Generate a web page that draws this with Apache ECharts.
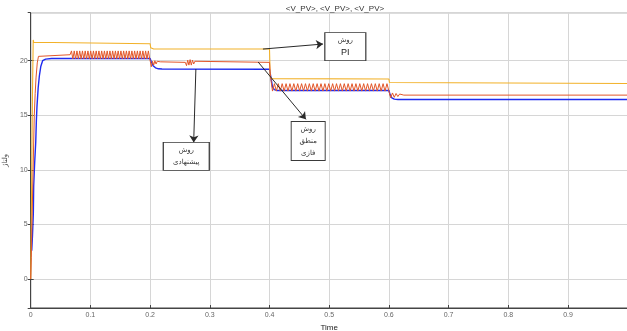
<!DOCTYPE html>
<html>
<head>
<meta charset="utf-8">
<script src="https://cdn.jsdelivr.net/npm/echarts@6/dist/echarts.min.js"></script>
<style>
html,body{margin:0;padding:0;background:#fff;}
#chart{width:627px;height:331px;}
</style>
</head>
<body>
<div id="chart"></div>
<script>
// ---- data ----
const chartTitle = '<V_PV>, <V_PV>, <V_PV>';
const xName = 'Time';
const yName = 'ولتاژ';
const xTicks = [0, 0.1, 0.2, 0.3, 0.4, 0.5, 0.6, 0.7, 0.8, 0.9, 1];
const seriesNames = ['PI', 'Fuzzy', 'Proposed'];

// PI method (yellow)
const piData = [
  [0,0],[0.0006,3],[0.0018,10],[0.003,17],[0.0042,21.9],[0.005,21.7],[0.007,21.56],
  [0.2,21.56],[0.201,21.2],[0.203,21.09],[0.206,21.07],
  [0.4,21.07],[0.4005,20.0],[0.401,18.6],[0.403,18.36],[0.406,18.32],
  [0.6,18.32],[0.601,18.0],[0.603,17.93],[1.0,17.92]
];

// Fuzzy logic method (orange)
const fuzzyData = [
  [0,0],[0.001,2],[0.002,4.7],[0.004,10],[0.006,15],[0.0075,17],[0.009,18.5],[0.011,19.8],[0.013,20.4],[0.016,20.55],
  [0.0660,20.55],[0.0683,20.9],[0.0706,20.16],[0.0729,20.9],[0.0752,20.16],[0.0775,20.9],[0.0798,20.16],[0.0821,20.9],
  [0.0844,20.16],[0.0867,20.9],[0.0890,20.16],[0.0913,20.9],[0.0936,20.16],[0.0959,20.9],[0.0982,20.16],[0.1005,20.9],
  [0.1028,20.16],[0.1051,20.9],[0.1074,20.16],[0.1097,20.9],[0.1120,20.16],[0.1143,20.9],[0.1166,20.16],[0.1189,20.9],
  [0.1212,20.16],[0.1235,20.9],[0.1258,20.16],[0.1281,20.9],[0.1304,20.16],[0.1327,20.9],[0.1350,20.16],[0.1373,20.9],
  [0.1396,20.16],[0.1419,20.9],[0.1442,20.16],[0.1465,20.9],[0.1488,20.16],[0.1511,20.9],[0.1534,20.16],[0.1557,20.9],
  [0.1580,20.16],[0.1603,20.9],[0.1626,20.16],[0.1649,20.9],[0.1672,20.16],[0.1695,20.9],[0.1718,20.16],[0.1741,20.9],
  [0.1764,20.16],[0.1787,20.9],[0.1810,20.16],[0.1833,20.9],[0.1856,20.16],[0.1879,20.9],[0.1902,20.16],[0.1925,20.9],
  [0.1948,20.16],[0.1971,20.9],[0.1994,20.16],
  [0.2005,19.9],[0.202,19.45],[0.204,19.95],[0.206,19.6],[0.208,20.0],[0.210,19.7],[0.212,19.95],[0.214,19.78],[0.217,19.9],[0.22,19.85],
  [0.259,19.85],[0.261,19.55],[0.263,20.05],[0.265,19.6],[0.267,20.1],[0.269,19.6],[0.271,20.05],[0.273,19.7],[0.275,19.95],[0.277,19.85],
  [0.4,19.85],[0.401,19.0],[0.403,18.0],
  [0.40500,17.22],[0.40825,17.9],[0.41150,17.22],[0.41475,17.9],[0.41800,17.22],[0.42125,17.9],[0.42450,17.22],[0.42775,17.9],
  [0.43100,17.22],[0.43425,17.9],[0.43750,17.22],[0.44075,17.9],[0.44400,17.22],[0.44725,17.9],[0.45050,17.22],[0.45375,17.9],
  [0.45700,17.22],[0.46025,17.9],[0.46350,17.22],[0.46675,17.9],[0.47000,17.22],[0.47325,17.9],[0.47650,17.22],[0.47975,17.9],
  [0.48300,17.22],[0.48625,17.9],[0.48950,17.22],[0.49275,17.9],[0.49600,17.22],[0.49925,17.9],[0.50250,17.22],[0.50575,17.9],
  [0.50900,17.22],[0.51225,17.9],[0.51550,17.22],[0.51875,17.9],[0.52200,17.22],[0.52525,17.9],[0.52850,17.22],[0.53175,17.9],
  [0.53500,17.22],[0.53825,17.9],[0.54150,17.22],[0.54475,17.9],[0.54800,17.22],[0.55125,17.9],[0.55450,17.22],[0.55775,17.9],
  [0.56100,17.22],[0.56425,17.9],[0.56750,17.22],[0.57075,17.9],[0.57400,17.22],[0.57725,17.9],[0.58050,17.22],[0.58375,17.9],
  [0.58700,17.22],[0.59025,17.9],[0.59350,17.22],[0.59675,17.9],[0.60000,17.22],
  [0.6015,17.1],[0.603,16.6],[0.606,17.05],[0.609,16.65],[0.612,17.0],[0.615,16.72],[0.618,16.95],[0.621,16.8],[0.625,16.85],
  [1.0,16.85]
];

// Proposed method (blue)
const proposedData = [
  [0.0017,2.6],[0.003,4],[0.0044,6],[0.005,8.5],[0.0065,10.5],[0.0084,12.5],[0.0095,14.5],[0.0105,15.8],[0.0125,17.5],
  [0.0145,18.6],[0.017,19.5],[0.02,20.0],[0.025,20.15],[0.035,20.2],
  [0.2,20.2],[0.202,19.9],[0.205,19.55],[0.209,19.35],[0.214,19.26],[0.22,19.24],
  [0.4,19.22],[0.402,18.6],[0.405,17.6],[0.408,17.35],[0.412,17.28],
  [0.6,17.27],[0.602,16.9],[0.605,16.6],[0.609,16.48],[0.615,16.45],[1.0,16.45]
];

// annotation labels
const piLabel = ['روش', 'PI'];
const proposedLabel = ['روش', 'پیشنهادی'];
const fuzzyLabel = ['روش', 'منطق', 'فازی'];

// ---- chart ----
const FONT = 'Liberation Sans, Arial, DejaVu Sans, sans-serif';
const chart = echarts.init(document.getElementById('chart'), null, {renderer: 'canvas'});

const arrowStyle = {color: '#2a2a2a', width: 1, type: 'solid'};
const boxStyle = {color: '#ffffff', borderColor: '#3a3a3a', borderWidth: 1};
const richText = {
  a: {fontSize: 7, color: '#333', fontFamily: 'DejaVu Sans, sans-serif', lineHeight: 12},
  b: {fontSize: 9, color: '#222', fontFamily: FONT, lineHeight: 12}
};

const option = {
  animation: false,
  backgroundColor: '#fff',
  textStyle: {fontFamily: FONT},
  title: {
    text: chartTitle,
    left: 330, top: 0, textAlign: 'center',
    textStyle: {fontSize: 8, fontWeight: 'normal', color: '#333', fontFamily: FONT}
  },
  grid: {left: 30.7, top: 12.7, width: 597, height: 295.3, containLabel: false, outerBoundsMode: 'none',
    show: true, borderColor: '#444', borderWidth: 1, backgroundColor: '#fff'},
  xAxis: {
    type: 'value', min: 0, max: 1, interval: 0.1,
    name: xName, nameLocation: 'middle', nameGap: 11,
    nameTextStyle: {fontSize: 8, color: '#222', verticalAlign: 'top'},
    axisLine: {show: true, onZero: false, lineStyle: {color: '#444', width: 1}},
    axisTick: {show: true, inside: true, length: 3, lineStyle: {color: '#444'}},
    axisLabel: {fontSize: 7, color: '#666', margin: 4, showMaxLabel: false,
      formatter: v => { const f = xTicks.find(t => Math.abs(t - v) < 1e-9); return f === undefined ? '' : String(f); }},
    splitLine: {show: true, lineStyle: {color: '#d6d6d6', width: 1}}
  },
  yAxis: [{
    type: 'value', min: -2.65, max: 24.4, splitNumber: 5, minInterval: 5, maxInterval: 5,
    name: yName, nameLocation: 'middle', nameGap: 9, nameRotate: 90,
    nameTextStyle: {fontSize: 7, color: '#444', fontFamily: 'DejaVu Sans, sans-serif'},
    axisLine: {show: true, onZero: false, lineStyle: {color: '#444', width: 1}},
    axisTick: {show: true, inside: true, length: 3, lineStyle: {color: '#444'}},
    axisLabel: {fontSize: 7, color: '#666', margin: 3, showMinLabel: false, showMaxLabel: false},
    splitLine: {show: true, lineStyle: {color: '#d6d6d6', width: 1}}
  }, {
    type: 'value', min: -2.65, max: 24.4, splitNumber: 5, minInterval: 5, maxInterval: 5, position: 'right',
    axisLine: {show: false}, axisTick: {show: true, inside: true, length: 3, lineStyle: {color: '#444'}},
    axisLabel: {show: false}, splitLine: {show: false}
  }],
  series: [
    {
      name: seriesNames[0], type: 'line', data: piData, showSymbol: false, symbol: 'none',
      lineStyle: {color: '#F2B128', width: 1.1}, z: 3,
      markLine: {
        silent: true, symbol: ['none', 'arrow'], symbolSize: 7,
        lineStyle: arrowStyle, label: {show: false},
        emphasis: {disabled: true},
        data: [
          [{coord: [0.389, 21.07]}, {coord: [0.4896, 21.53]}],
          [{coord: [0.2767, 19.24]}, {coord: [0.273, 12.52]}],
          [{coord: [0.381, 19.88]}, {coord: [0.461, 14.63]}]
        ]
      },
      markPoint: {
        silent: true,
        data: [
          {coord: [0.527, 21.29], symbol: 'rect', symbolSize: [41, 28], itemStyle: boxStyle,
           label: {show: true, position: 'inside', formatter: '{a|' + piLabel[0] + '}\n{b|' + piLabel[1] + '}', rich: richText}},
          {coord: [0.2606, 11.24], symbol: 'rect', symbolSize: [46, 28], itemStyle: boxStyle,
           label: {show: true, position: 'inside', formatter: '{a|' + proposedLabel[0] + '}\n{a|' + proposedLabel[1] + '}', rich: richText}},
          {coord: [0.4648, 12.64], symbol: 'rect', symbolSize: [34, 39], itemStyle: boxStyle,
           label: {show: true, position: 'inside', formatter: fuzzyLabel.map(s => '{a|' + s + '}').join('\n'), rich: richText}}
        ]
      }
    },
    {
      name: seriesNames[1], type: 'line', data: fuzzyData, showSymbol: false, symbol: 'none',
      lineStyle: {color: '#E2572A', width: 1}, z: 4
    },
    {
      name: seriesNames[2], type: 'line', data: proposedData, showSymbol: false, symbol: 'none',
      lineStyle: {color: '#1F2BF0', width: 1.4}, z: 2
    }
  ]
};
chart.setOption(option);
</script>
</body>
</html>
